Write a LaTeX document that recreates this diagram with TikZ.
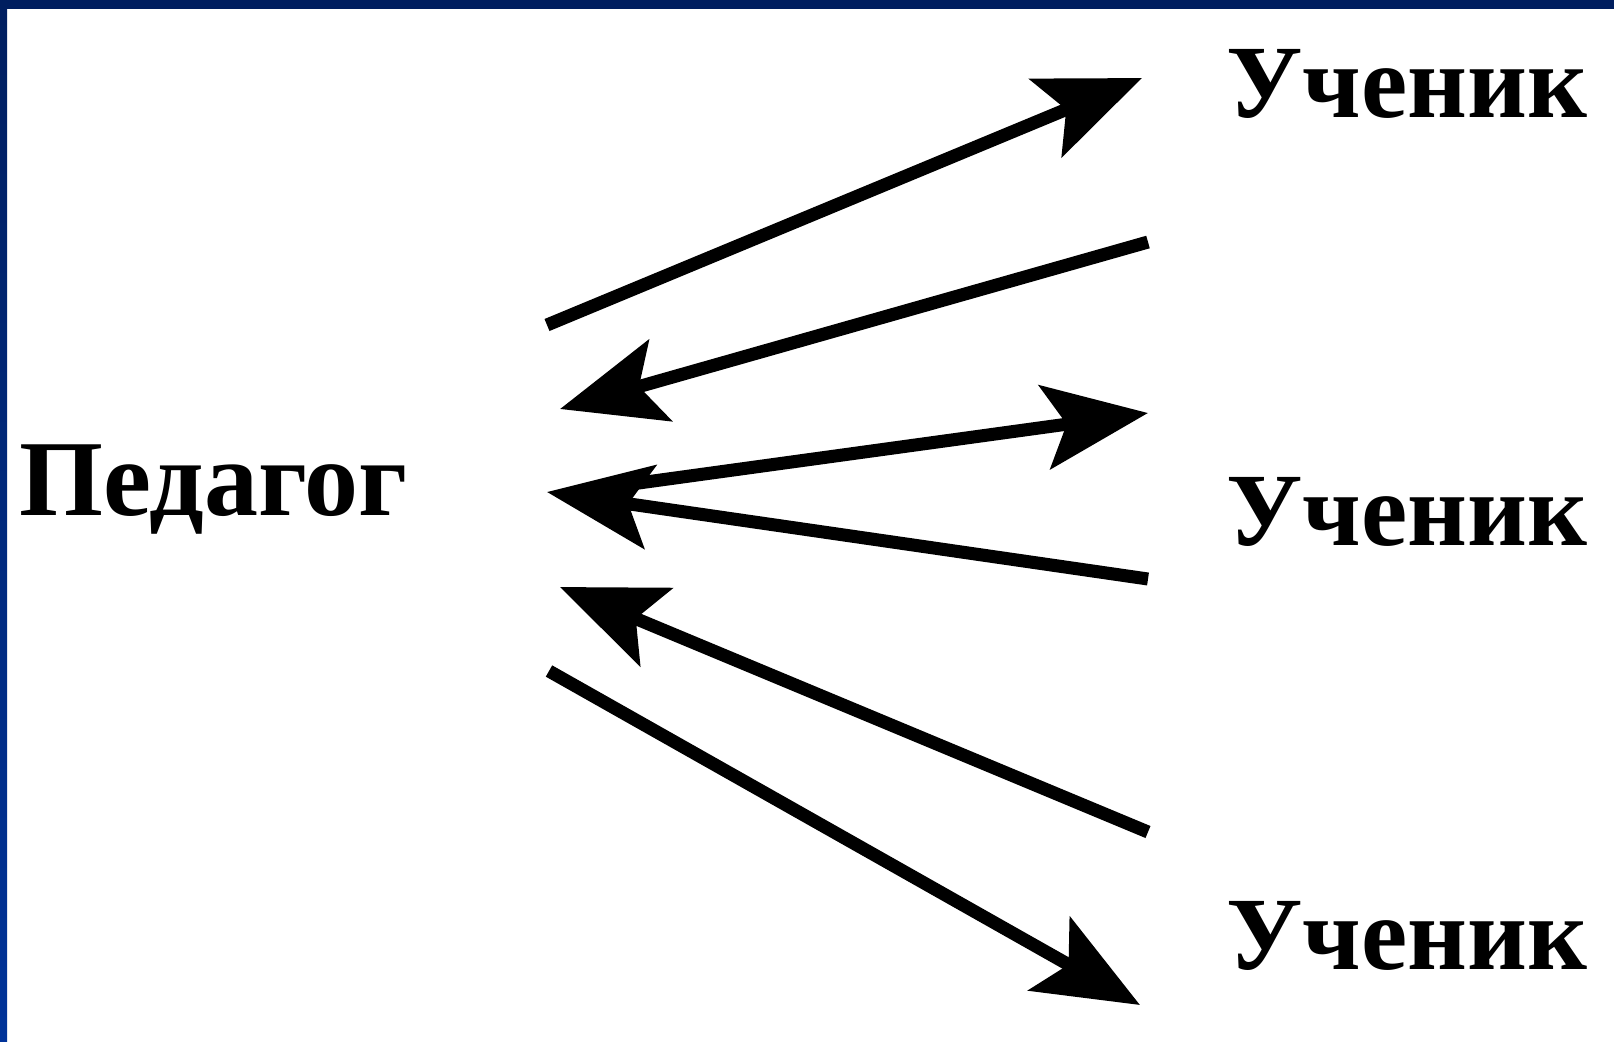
\documentclass[tikz,border=0pt]{standalone}
\usepackage{fontspec}
\setmainfont{Liberation Serif}
\usetikzlibrary{arrows.meta}
\definecolor{frametop}{HTML}{001E5F}
\definecolor{framebot}{HTML}{003399}
\tikzset{
  lbl/.style={anchor=base west, inner sep=0pt, font=\fontsize{54}{60}\selectfont\bfseries},
  lblu/.style={anchor=base west, inner sep=0pt, font=\fontsize{52}{60}\selectfont\bfseries},
  arr/.style={line width=6.5pt, -{Stealth[length=52pt, width=42pt, inset=11pt]}},
}
\begin{document}
\begin{tikzpicture}[x=0.5pt, y=-0.5pt]
\useasboundingbox (0,0) rectangle (1614,1041);
\fill[white] (0,0) rectangle (1614,1041);
\shade[top color=frametop, bottom color=framebot] (0,0) rectangle (7,1041);
\fill[frametop] (0,0) rectangle (1614,9);
% labels
\node[lbl] (ped) at (19,515) {Педагог};
\node[lblu] (u1) at (1226,117) {Ученик};
\node[lblu] (u2) at (1226,545) {Ученик};
\node[lblu] (u3) at (1226,969) {Ученик};
% arrow end points
\coordinate (a1s) at (547,325);
\coordinate (a1e) at (1142,78);
\coordinate (a2s) at (1148,242);
\coordinate (a2e) at (560,409);
\coordinate (a3s) at (595,489);
\coordinate (a3e) at (1148,413);
\coordinate (a4s) at (1148,579);
\coordinate (a4e) at (547,492);
\coordinate (a5s) at (1148,832);
\coordinate (a5e) at (560,587);
\coordinate (a6s) at (549,671);
\coordinate (a6e) at (1140,1005);
\draw[arr] (a1s) -- (a1e);
\draw[arr] (a2s) -- (a2e);
\draw[arr] (a3s) -- (a3e);
\draw[arr] (a4s) -- (a4e);
\draw[arr] (a5s) -- (a5e);
\draw[arr] (a6s) -- (a6e);
\end{tikzpicture}
\end{document}
